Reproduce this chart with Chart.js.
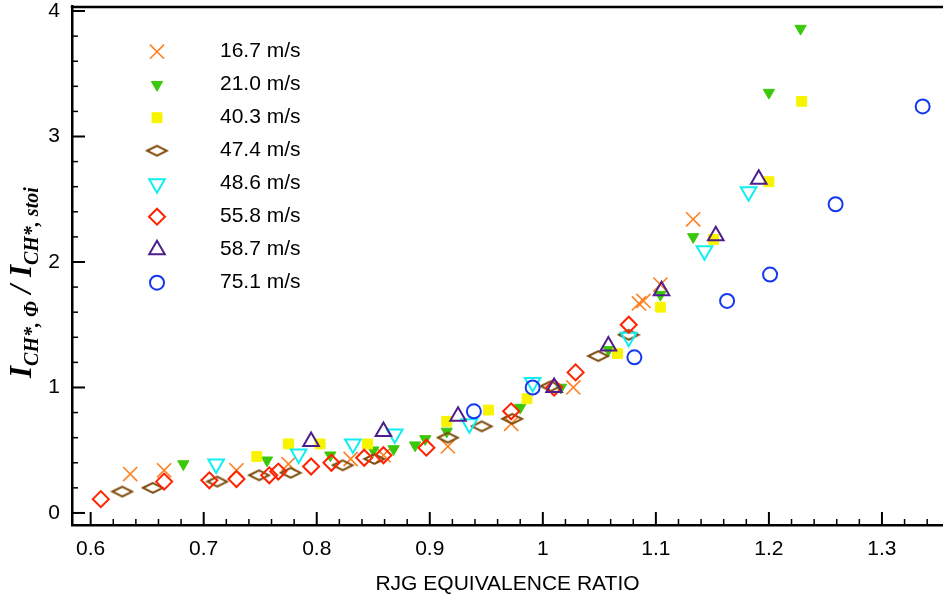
<!DOCTYPE html>
<html>
<head>
<meta charset="utf-8">
<script src="https://cdn.jsdelivr.net/npm/chart.js"></script>
<style>
  html, body { margin: 0; padding: 0; background: #fff; overflow: hidden; }
  #wrap { position: relative; width: 943px; height: 598px; }
  #chartIntensity { display: block; }
  #ytitle {
    position: absolute; left: 5px; top: 378px;
    transform-origin: 0 0; transform: rotate(-90deg);
    white-space: nowrap; color: #000; line-height: 31px;
    font-family: "Liberation Serif", "Times New Roman", serif;
    font-weight: bold; font-style: italic; font-size: 31px;
  }
  #ytitle sub { font-size: 20px; vertical-align: -7px; line-height: 0; }
</style>
</head>
<body>
<div id="wrap">
  <canvas id="chartIntensity"></canvas>
  <div id="ytitle">I<sub>CH*, Φ</sub> / I<sub>CH*, stoi</sub></div>
</div>
<script>
const seriesLabels = ["16.7 m/s", "21.0 m/s", "40.3 m/s", "47.4 m/s",
  "48.6 m/s", "55.8 m/s", "58.7 m/s", "75.1 m/s"];

// equivalence ratio (x) and normalised CH* intensity (y) per jet velocity
const phi167 = [0.635, 0.665, 0.729, 0.775, 0.830, 0.859, 0.916, 0.972, 1.027, 1.085, 1.089, 1.104, 1.133];
const ich167 = [0.31, 0.34, 0.34, 0.39, 0.43, 0.46, 0.53, 0.71, 1.00, 1.67, 1.69, 1.82, 2.34];

const phi210 = [0.682, 0.756, 0.812, 0.850, 0.868, 0.887, 0.896, 0.915, 0.980, 1.016, 1.058, 1.104, 1.133, 1.200, 1.228];
const ich210 = [0.39, 0.42, 0.46, 0.50, 0.51, 0.54, 0.59, 0.65, 0.84, 1.00, 1.30, 1.74, 2.20, 3.35, 3.86];

const phi403 = [0.747, 0.775, 0.803, 0.845, 0.915, 0.952, 0.986, 1.066, 1.104, 1.151, 1.200, 1.229];
const ich403 = [0.45, 0.55, 0.55, 0.55, 0.73, 0.82, 0.91, 1.27, 1.64, 2.18, 2.64, 3.28];

const phi474 = [0.628, 0.655, 0.712, 0.749, 0.777, 0.823, 0.851, 0.916, 0.946, 0.973, 1.007, 1.049, 1.076];
const ich474 = [0.17, 0.20, 0.25, 0.30, 0.32, 0.38, 0.43, 0.60, 0.69, 0.75, 1.01, 1.25, 1.42];

const phi486 = [0.711, 0.784, 0.832, 0.869, 0.935, 0.991, 1.076, 1.143, 1.182];
const ich486 = [0.39, 0.47, 0.55, 0.63, 0.71, 1.04, 1.40, 2.09, 2.56];

const phi558 = [0.609, 0.665, 0.705, 0.729, 0.758, 0.766, 0.795, 0.813, 0.842, 0.859, 0.897, 0.972, 1.010, 1.029, 1.076];
const ich558 = [0.11, 0.25, 0.26, 0.27, 0.30, 0.33, 0.37, 0.40, 0.44, 0.46, 0.52, 0.81, 1.00, 1.12, 1.50];

const phi587 = [0.795, 0.859, 0.925, 1.010, 1.058, 1.105, 1.153, 1.191];
const ich587 = [0.57, 0.65, 0.77, 1.00, 1.33, 1.77, 2.21, 2.66];

const phi751 = [0.939, 0.991, 1.081, 1.163, 1.201, 1.259, 1.336];
const ich751 = [0.81, 1.00, 1.24, 1.69, 1.90, 2.46, 3.24];

const xTicks = [0.6, 0.7, 0.8, 0.9, 1, 1.1, 1.2, 1.3];
const yTicks = [0, 1, 2, 3, 4];

function toPoints(xs, ys) {
  return xs.map((x, i) => ({ x: x, y: ys[i] }));
}

// flat brown diamond used by the 47.4 m/s series
function flatDiamond(color) {
  const c = document.createElement("canvas");
  c.width = 24;
  c.height = 14;
  const g = c.getContext("2d");
  g.strokeStyle = color;
  g.lineWidth = 2;
  g.beginPath();
  g.moveTo(2, 7);
  g.lineTo(12, 2);
  g.lineTo(22, 7);
  g.lineTo(12, 12);
  g.closePath();
  g.stroke();
  return c;
}

const none = "rgba(0,0,0,0)";

const datasets = [
  { data: toPoints(phi167, ich167), pointStyle: "crossRot", pointRadius: 10, pointRotation: 0,
    pointBackgroundColor: none, pointBorderColor: "#ff8020", pointBorderWidth: 1.6 },
  { data: toPoints(phi210, ich210), pointStyle: "triangle", pointRadius: 6.5, pointRotation: 180,
    pointBackgroundColor: "#3cc80a", pointBorderColor: "#3cc80a", pointBorderWidth: 1 },
  { data: toPoints(phi403, ich403), pointStyle: "rect", pointRadius: 7, pointRotation: 0,
    pointBackgroundColor: "#f8f400", pointBorderColor: "#f8f400", pointBorderWidth: 1 },
  { data: toPoints(phi474, ich474), pointStyle: flatDiamond("#7c4a0a"), pointRadius: 10, pointRotation: 0,
    pointBackgroundColor: none, pointBorderColor: "#7c4a0a", pointBorderWidth: 0 },
  { data: toPoints(phi486, ich486), pointStyle: "triangle", pointRadius: 9, pointRotation: 180,
    pointBackgroundColor: none, pointBorderColor: "#10eef2", pointBorderWidth: 2 },
  { data: toPoints(phi558, ich558), pointStyle: "rectRot", pointRadius: 8, pointRotation: 0,
    pointBackgroundColor: none, pointBorderColor: "#ff2200", pointBorderWidth: 2 },
  { data: toPoints(phi587, ich587), pointStyle: "triangle", pointRadius: 9, pointRotation: 0,
    pointBackgroundColor: none, pointBorderColor: "#4e1f8c", pointBorderWidth: 2 },
  { data: toPoints(phi751, ich751), pointStyle: "circle", pointRadius: 7, pointRotation: 0,
    pointBackgroundColor: none, pointBorderColor: "#1438f0", pointBorderWidth: 2 },
];
datasets.forEach((ds, i) => {
  ds.label = seriesLabels[i];
  ds.order = 10 - i; // later series on top
  ds.pointHoverRadius = ds.pointRadius;
});

const insideLegend = {
  id: "insideLegend",
  afterDraw(chart) {
    const ctx = chart.ctx;
    chart.data.datasets.forEach((ds, i) => {
      const y = 51.7 + i * 33.0;
      ctx.save();
      ctx.fillStyle = ds.pointBackgroundColor;
      ctx.strokeStyle = ds.pointBorderColor;
      ctx.lineWidth = ds.pointBorderWidth;
      Chart.helpers.drawPoint(ctx, {
        pointStyle: ds.pointStyle,
        radius: ds.pointRadius,
        rotation: ds.pointRotation,
        borderWidth: ds.pointBorderWidth,
      }, 157, y);
      ctx.restore();
      ctx.save();
      ctx.fillStyle = "#000";
      ctx.font = "21px 'Liberation Sans', Arial, sans-serif";
      ctx.textBaseline = "middle";
      ctx.fillText(ds.label, 220, y);
      ctx.restore();
    });
  },
};

// tick marks point into the plot, plus the top frame line
const inwardTicks = {
  id: "inwardTicks",
  afterDraw(chart) {
    const { ctx, chartArea: a, scales } = chart;
    ctx.save();
    ctx.strokeStyle = "#000";
    ctx.lineWidth = 2.5;
    ctx.beginPath();
    ctx.moveTo(a.left - 1.25, a.top + 1);
    ctx.lineTo(a.right, a.top + 1);
    ctx.stroke();
    for (let k = 30; k <= 67; k++) {
      const px = scales.x.getPixelForValue(k / 50);
      const major = k % 5 === 0;
      ctx.lineWidth = major ? 2 : 1.5;
      ctx.beginPath();
      ctx.moveTo(px, a.bottom);
      ctx.lineTo(px, a.bottom - (major ? 13 : 6));
      ctx.stroke();
    }
    for (let k = 0; k <= 20; k++) {
      const py = scales.y.getPixelForValue(k / 5);
      const major = k % 5 === 0;
      ctx.lineWidth = major ? 2 : 1.5;
      ctx.beginPath();
      ctx.moveTo(a.left, py);
      ctx.lineTo(a.left + (major ? 13 : 6), py);
      ctx.stroke();
    }
    ctx.restore();
  },
};

const tickFont = { family: "'Liberation Sans', Arial, sans-serif", size: 21 };

function noPadding(axis) {
  axis.paddingTop = 0;
  axis.paddingBottom = 0;
  axis.paddingLeft = 0;
  axis.paddingRight = 0;
}

new Chart(document.getElementById("chartIntensity"), {
  type: "scatter",
  data: { datasets: datasets },
  options: {
    responsive: true,
    maintainAspectRatio: false,
    animation: false,
    events: [],
    layout: { autoPadding: false, padding: { top: 6, right: 0, left: 0, bottom: 0 } },
    plugins: {
      legend: { display: false },
      tooltip: { enabled: false },
    },
    scales: {
      x: {
        type: "linear",
        min: 0.5835,
        max: 1.354,
        afterBuildTicks: (axis) => { axis.ticks = xTicks.map((v) => ({ value: v })); },
        afterFit: (axis) => { axis.height = 73; noPadding(axis); },
        ticks: { color: "#000", font: tickFont, padding: 12, maxRotation: 0, callback: (v) => String(v) },
        grid: { display: false, drawTicks: false },
        border: { display: true, color: "#000", width: 2.5 },
        title: {
          display: true,
          text: "RJG EQUIVALENCE RATIO",
          color: "#000",
          font: tickFont,
          padding: { top: 0, bottom: 1 },
        },
      },
      y: {
        type: "linear",
        min: -0.096,
        max: 4.04,
        afterBuildTicks: (axis) => { axis.ticks = yTicks.map((v) => ({ value: v })); },
        afterFit: (axis) => { axis.width = 72; noPadding(axis); },
        ticks: { color: "#000", font: tickFont, padding: 12, callback: (v) => String(v) },
        grid: { display: false, drawTicks: false },
        border: { display: true, color: "#000", width: 2.5 },
      },
    },
  },
  plugins: [inwardTicks, insideLegend],
});
</script>
</body>
</html>
